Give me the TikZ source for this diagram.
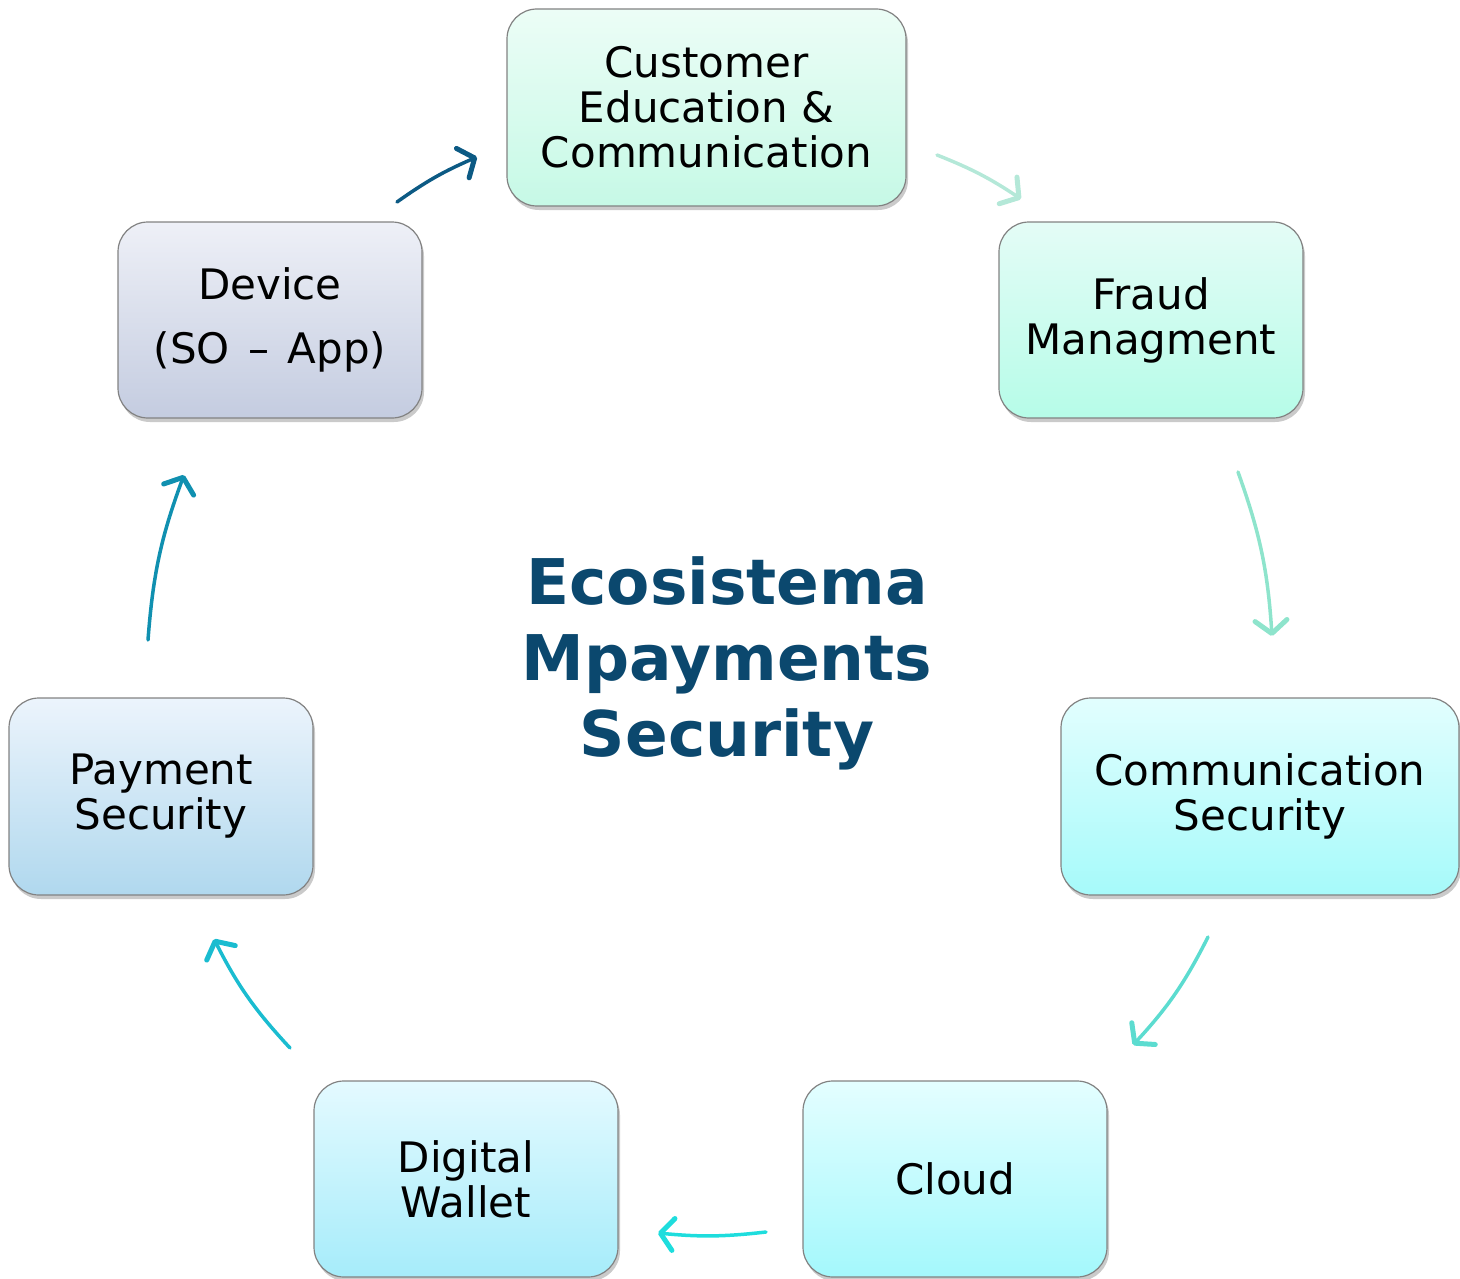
\documentclass[tikz,border=0pt]{standalone}
\usepackage{fontspec}
\setmainfont{DejaVu Sans}
\usetikzlibrary{arrows.meta,shadows}
\definecolor{boxborder}{RGB}{130,130,130}
\definecolor{titleblue}{RGB}{11,72,110}
\definecolor{custT}{RGB}{236,253,246}\definecolor{custB}{RGB}{198,249,230}
\definecolor{fraudT}{RGB}{228,252,246}\definecolor{fraudB}{RGB}{182,252,232}
\definecolor{commT}{RGB}{226,254,254}\definecolor{commB}{RGB}{166,250,250}
\definecolor{cloudT}{RGB}{228,254,255}\definecolor{cloudB}{RGB}{164,248,252}
\definecolor{walletT}{RGB}{228,250,255}\definecolor{walletB}{RGB}{166,236,250}
\definecolor{payT}{RGB}{236,244,252}\definecolor{payB}{RGB}{176,216,238}
\definecolor{devT}{RGB}{238,240,247}\definecolor{devB}{RGB}{196,204,224}
\definecolor{arA}{RGB}{12,90,132}
\definecolor{arB}{RGB}{180,232,216}
\definecolor{arC}{RGB}{142,228,204}
\definecolor{arD}{RGB}{92,220,208}
\definecolor{arE}{RGB}{30,221,221}
\definecolor{arF}{RGB}{26,188,208}
\definecolor{arG}{RGB}{16,144,176}
\begin{document}
\begin{tikzpicture}[x=1pt,y=-1pt,
  box/.style={rounded corners=30pt, draw=boxborder, line width=1.2pt, align=center,
    inner sep=0pt, minimum width=304pt, minimum height=196pt,
    font=\fontsize{42}{45}\selectfont,
    drop shadow={shadow xshift=2pt,shadow yshift=-4pt,opacity=0.35,fill=black!60}},
  conn/.style={line width=3.5pt, line cap=round,
    -{Straight Barb[length=13pt,width=32pt,line width=5pt,line cap=round,line join=round]}}
]
\useasboundingbox (0,0) rectangle (1460,1279);
\node[box, minimum width=399pt, minimum height=197pt, top color=custT, bottom color=custB] (cust) at (706.5,107.5) {Customer\\Education \&\\Communication};
\node[box, top color=fraudT, bottom color=fraudB] (fraud) at (1151,320) {Fraud\\Managment};
\node[box, minimum width=398pt, minimum height=197pt, top color=commT, bottom color=commB] (comm) at (1260,796.5) {Communication\\Security};
\node[box, top color=cloudT, bottom color=cloudB] (cloud) at (955,1179) {Cloud};
\node[box, top color=walletT, bottom color=walletB] (wallet) at (466,1179) {Digital\\Wallet};
\node[box, minimum height=197pt, top color=payT, bottom color=payB] (pay) at (161,796.5) {Payment\\Security};
\node[box, top color=devT, bottom color=devB, font=\fontsize{42}{64}\selectfont] (dev) at (270,320) {Device\\(SO\hspace{0.12em} – \hspace{0.12em}App)};
\node[align=center, text=titleblue, font=\fontsize{63}{76}\selectfont\bfseries] (title) at (727,663) {Ecosistema\\Mpayments\\Security};
\coordinate (a1s) at (397,202); \coordinate (a1e) at (477,157);
\coordinate (a2s) at (937,155); \coordinate (a2e) at (1021,199);
\coordinate (a3s) at (1238,472); \coordinate (a3e) at (1272,636);
\coordinate (a4s) at (1208,937); \coordinate (a4e) at (1133,1045);
\coordinate (a5s) at (766,1232); \coordinate (a5e) at (658,1233);
\coordinate (a6s) at (290,1048); \coordinate (a6e) at (214,939);
\coordinate (a7s) at (148,640); \coordinate (a7e) at (184,475);
\draw[conn, arA] (a1s) to[bend left=6] (a1e);
\draw[conn, arB] (a2s) to[bend left=6] (a2e);
\draw[conn, arC] (a3s) to[bend left=8] (a3e);
\draw[conn, arD] (a4s) to[bend left=8] (a4e);
\draw[conn, arE] (a5s) to[bend left=6] (a5e);
\draw[conn, arF] (a6s) to[bend left=8] (a6e);
\draw[conn, arG] (a7s) to[bend left=8] (a7e);
\end{tikzpicture}
\end{document}
